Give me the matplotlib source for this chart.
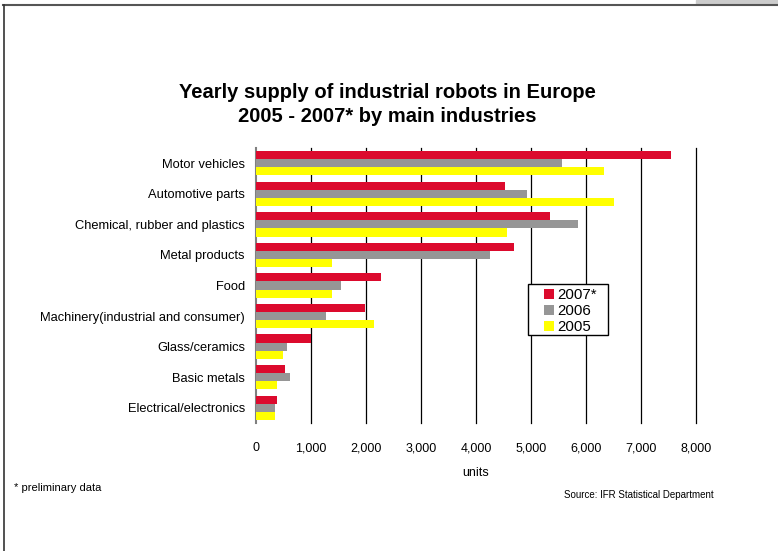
import matplotlib
matplotlib.use("Agg")
import matplotlib.pyplot as plt
import numpy as np
from matplotlib.lines import Line2D
from matplotlib.patches import Rectangle

plt.rcParams['font.family'] = ['Liberation Sans', 'DejaVu Sans']

categories = ["Motor vehicles", "Automotive parts", "Chemical, rubber and plastics",
              "Metal products", "Food", "Machinery(industrial and consumer)",
              "Glass/ceramics", "Basic metals", "Electrical/electronics"]
v2007 = [7540, 4520, 5340, 4690, 2270, 1980, 1000, 525, 380]
v2006 = [5560, 4920, 5850, 4250, 1545, 1270, 565, 615, 345]
v2005 = [6320, 6500, 4570, 1375, 1380, 2145, 495, 380, 345]
series_names = ["2007*", "2006", "2005"]
colors = ["#DC0A2D", "#969696", "#FFFF00"]
xticks = [0, 1000, 2000, 3000, 4000, 5000, 6000, 7000, 8000]

W, H = 778, 551
fig = plt.figure(figsize=(W/100, H/100), dpi=100)

def fx(px):
    return px / W

def fy(py):
    return 1 - py / H

# page frame
fig.add_artist(Line2D([fx(3), 1], [fy(5), fy(5)], color="#555555", lw=1.5, transform=fig.transFigure))
fig.add_artist(Line2D([fx(4), fx(4)], [0, fy(5)], color="#333333", lw=1.2, transform=fig.transFigure))
fig.add_artist(Rectangle((fx(696), fy(4)), 82/W, 4/H, color="#cccccc", transform=fig.transFigure))

ax = fig.add_axes([fx(256), fy(423), 440/W, 275/H])
y = np.arange(len(categories))
bh = 0.265
for i, (vals, c, name) in enumerate(zip([v2007, v2006, v2005], colors, series_names)):
    ax.barh(y + (i-1)*bh, vals, height=bh, color=c, label=name, zorder=3)

ax.set_xlim(0, 8000)
ax.set_ylim(len(categories)-0.5, -0.5)
ax.set_xticks(xticks)
ax.set_xticklabels([f"{t:,}" for t in xticks], fontsize=9)
ax.set_yticks(y)
ax.set_yticklabels(categories, fontsize=9.3)
ax.tick_params(axis='both', length=0)
ax.tick_params(axis='x', pad=14)
ax.tick_params(axis='y', pad=8)
for t in xticks[1:]:
    ax.axvline(t, color="black", lw=0.9, zorder=1, clip_on=False)
for s in ["top", "right", "bottom"]:
    ax.spines[s].set_visible(False)
ax.spines["left"].set_color("#808080")
ax.spines["left"].set_linewidth(1.5)
ax.set_xlabel("units", fontsize=9, labelpad=9)

# legend box (drawn in figure pixel coordinates)
fig.add_artist(Rectangle((fx(528), fy(335)), 80/W, 51/H, facecolor="white", edgecolor="black",
                         lw=1.0, transform=fig.transFigure, zorder=10))
for k, (name, c) in enumerate(zip(series_names, colors)):
    cy = 294 + 16 * k
    fig.add_artist(Rectangle((fx(544), fy(cy + 5)), 10/W, 10/H, facecolor=c, edgecolor="none",
                             transform=fig.transFigure, zorder=11))
    fig.text(fx(557.5), fy(cy + 5), name, ha="left", va="baseline", fontsize=10.8, zorder=12)

fig.text(fx(387), fy(92), "Yearly supply of industrial robots in Europe", ha="center", va="center",
         fontsize=14.5, fontweight="bold")
fig.text(fx(387), fy(117), "2005 - 2007* by main industries", ha="center", va="center",
         fontsize=14.5, fontweight="bold")
fig.text(fx(14), fy(488), "* preliminary data", ha="left", va="center", fontsize=8.0)
fig.text(fx(564), fy(495), "Source: IFR Statistical Department", ha="left", va="center", fontsize=7.0)

fig.savefig("out.png", dpi=100)
